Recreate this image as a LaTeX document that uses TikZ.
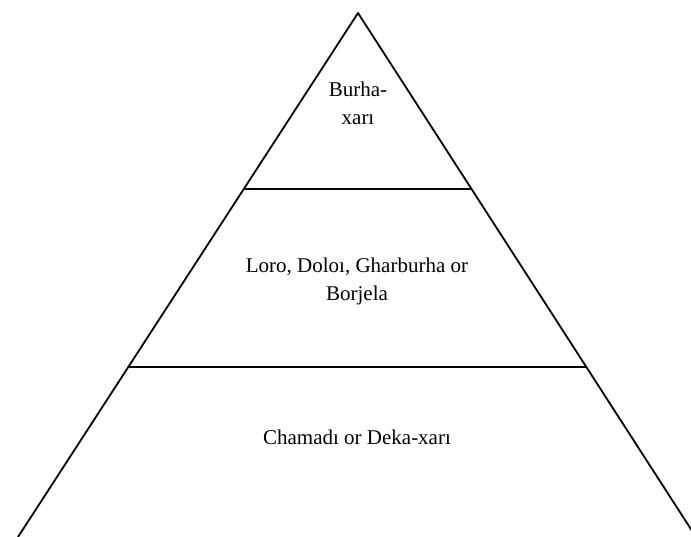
\documentclass[tikz,border=0pt]{standalone}
\usepackage{fontspec}
\setmainfont{Liberation Serif}
\usetikzlibrary{positioning,calc}

\begin{document}
\begin{tikzpicture}[
  x=1pt, y=-1pt,
  edge/.style={black, line width=1.8pt, line join=round},
  tier/.style={align=center, inner sep=0pt, font=\fontsize{21}{28}\selectfont}
]
\useasboundingbox (0,0) rectangle (691,537);
\clip (0,0) rectangle (691,537);
\coordinate (apex) at (358,13);
\coordinate (baseL) at (18,537);
\coordinate (baseR) at (696,537);
\coordinate (topL) at (244,189);
\coordinate (topR) at (471,189);
\coordinate (midL) at (128,367);
\coordinate (midR) at (586,367);
% pyramid outline and tiers
\draw[edge] (baseL) -- (apex) -- (baseR);
\draw[edge] (topL) -- (topR);
\draw[edge] (midL) -- (midR);
\node[tier] (head) at (358,103) {Burha-\\xarı};
\node[tier] (elders) at (357,281) {Loro, Doloı, Gharburha or\\Borjela};
\node[tier] (base) at (357,437) {Chamadı or Deka-xarı};
\end{tikzpicture}
\end{document}
